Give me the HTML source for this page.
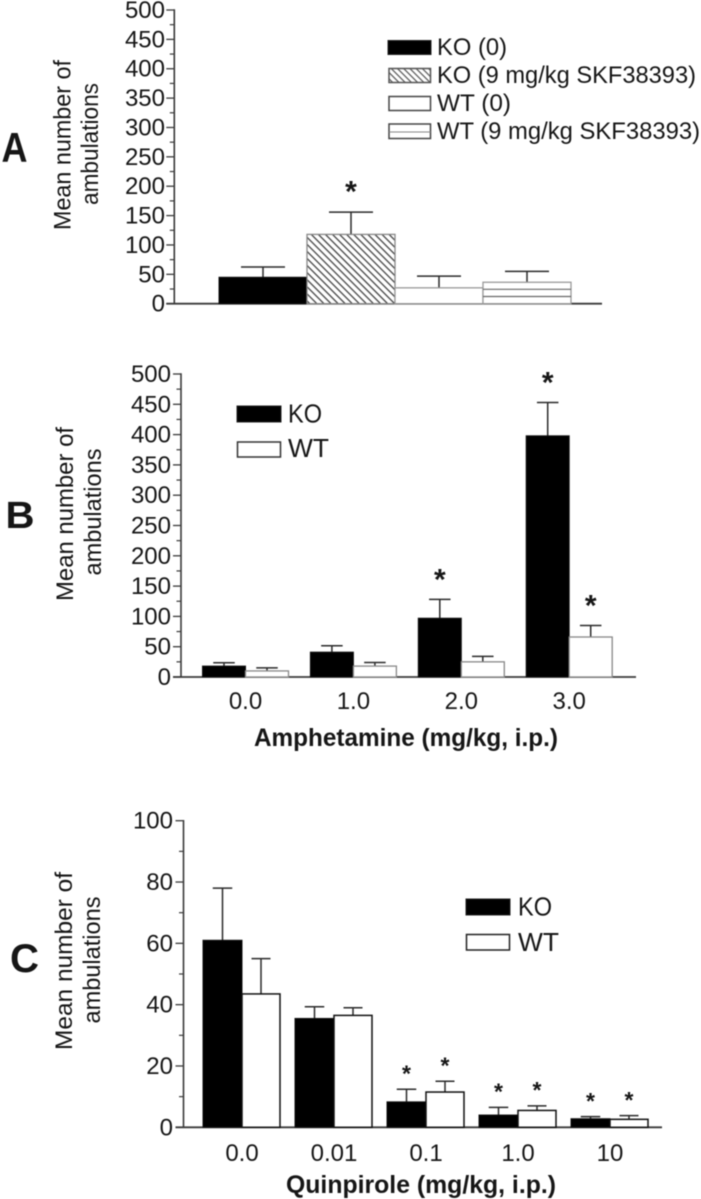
<!DOCTYPE html>
<html lang="en">
<head>
<meta charset="utf-8">
<title>Mean number of ambulations</title>
<style>
html,body{margin:0;padding:0;background:#fff;}
svg{display:block;filter:blur(0.4px);}
text{font-family:"Liberation Sans",Arial,sans-serif;fill:#161616;}
</style>
</head>
<body>
<svg id="fig" xmlns="http://www.w3.org/2000/svg" width="701" height="1199" viewBox="0 0 701 1199">
  <defs>
    <pattern id="hatchDiag" patternUnits="userSpaceOnUse" width="5" height="5" patternTransform="rotate(45)">
      <rect width="5" height="5" fill="#fff"/>
      <rect x="0" y="0" width="5" height="1.3" fill="#444"/>
    </pattern>
    <pattern id="hatchDiagLegend" patternUnits="userSpaceOnUse" width="4.4" height="4.4" patternTransform="rotate(45)">
      <rect width="4.4" height="4.4" fill="#fff"/>
      <rect x="0" y="0" width="4.4" height="1.2" fill="#555"/>
    </pattern>
  </defs>

  <!-- Panel letters -->
  <text x="1.5" y="162" font-size="42" font-weight="bold" textLength="26" lengthAdjust="spacingAndGlyphs">A</text>
  <text x="5.5" y="528" font-size="38" font-weight="bold" textLength="29" lengthAdjust="spacingAndGlyphs">B</text>
  <text x="10" y="972" font-size="40" font-weight="bold" textLength="29" lengthAdjust="spacingAndGlyphs">C</text>

  <!-- Y axis titles -->
  <g font-size="24.5" text-anchor="middle">
    <text transform="translate(70.5,145) rotate(-90)" textLength="170" lengthAdjust="spacingAndGlyphs">Mean number of</text>
    <text transform="translate(98,144) rotate(-90)" textLength="122" lengthAdjust="spacingAndGlyphs">ambulations</text>
  </g>
  <g font-size="24.5" text-anchor="middle">
    <text transform="translate(73,514) rotate(-90)" textLength="174" lengthAdjust="spacingAndGlyphs">Mean number of</text>
    <text transform="translate(101,512) rotate(-90)" textLength="127" lengthAdjust="spacingAndGlyphs">ambulations</text>
  </g>
  <g font-size="24.5" text-anchor="middle">
    <text transform="translate(72,961) rotate(-90)" textLength="178" lengthAdjust="spacingAndGlyphs">Mean number of</text>
    <text transform="translate(100,960) rotate(-90)" textLength="127" lengthAdjust="spacingAndGlyphs">ambulations</text>
  </g>

  <!-- X axis titles -->
  <text x="254" y="746" font-size="25" font-weight="bold" textLength="304" lengthAdjust="spacingAndGlyphs">Amphetamine (mg/kg, i.p.)</text>
  <text x="286" y="1193" font-size="25" font-weight="bold" textLength="270" lengthAdjust="spacingAndGlyphs">Quinpirole (mg/kg, i.p.)</text>

  <!-- Panel A legend -->
  <g font-size="24">
    <g>
      <rect x="388" y="40.5" width="43" height="14" fill="#000" stroke="#222" stroke-width="1"/>
      <text x="437" y="55" textLength="70" lengthAdjust="spacingAndGlyphs">KO (0)</text>
    </g>
    <g>
      <rect x="389" y="68.5" width="41.5" height="14" fill="url(#hatchDiagLegend)" stroke="#555" stroke-width="1.5"/>
      <text x="437" y="83" textLength="259" lengthAdjust="spacingAndGlyphs">KO (9 mg/kg SKF38393)</text>
    </g>
    <g>
      <rect x="389" y="96.5" width="41.5" height="14" fill="#fff" stroke="#444" stroke-width="1.5"/>
      <text x="437" y="111" textLength="74" lengthAdjust="spacingAndGlyphs">WT (0)</text>
    </g>
    <g>
      <rect x="389" y="124" width="41.5" height="14.5" fill="#fff" stroke="#444" stroke-width="1.5"/>
      <line x1="389" x2="430.5" y1="132" y2="132" stroke="#888" stroke-width="1"/>
      <text x="437" y="139" textLength="263" lengthAdjust="spacingAndGlyphs">WT (9 mg/kg SKF38393)</text>
    </g>
  </g>

  <!-- Panel B legend -->
  <g font-size="25.5">
    <g>
      <rect x="237" y="406" width="44" height="16" fill="#000" stroke="#222" stroke-width="1"/>
      <text x="288" y="422.5" textLength="34" lengthAdjust="spacingAndGlyphs">KO</text>
    </g>
    <g>
      <rect x="237.5" y="442" width="43" height="15" fill="#fff" stroke="#333" stroke-width="1.5"/>
      <text x="288" y="457" textLength="41" lengthAdjust="spacingAndGlyphs">WT</text>
    </g>
  </g>

  <!-- Panel C legend -->
  <g font-size="25.5">
    <g>
      <rect x="466" y="899" width="44" height="16" fill="#000" stroke="#222" stroke-width="1"/>
      <text x="518" y="915.5" textLength="34" lengthAdjust="spacingAndGlyphs">KO</text>
    </g>
    <g>
      <rect x="466.5" y="934.5" width="43" height="15.5" fill="#fff" stroke="#222" stroke-width="1.5"/>
      <text x="518" y="951" textLength="41" lengthAdjust="spacingAndGlyphs">WT</text>
    </g>
  </g>

  <g id="panelA"></g>
  <g id="panelB"></g>
  <g id="panelC"></g>
</svg>

<script>
// Panel A data
var aCategories = ["KO (0)", "KO (9 mg/kg SKF38393)", "WT (0)", "WT (9 mg/kg SKF38393)"];
var aMeans = [45, 118, 27, 36.5];
var aErrors = [62.5, 156, 47, 55];
var aSignificant = [false, true, false, false];
var aTicks = [0, 50, 100, 150, 200, 250, 300, 350, 400, 450, 500];

// Panel B data
var bCategories = ["0.0", "1.0", "2.0", "3.0"];
var bKO = [18, 41, 97, 398];
var bKOError = [23.5, 51.5, 128, 453];
var bKOSignificant = [false, false, true, true];
var bWT = [10, 18, 25, 66];
var bWTError = [15, 24, 34, 85];
var bWTSignificant = [false, false, false, true];
var bTicks = [0, 50, 100, 150, 200, 250, 300, 350, 400, 450, 500];

// Panel C data
var cCategories = ["0.0", "0.01", "0.1", "1.0", "10"];
var cKO = [61, 35.5, 8.3, 4, 2.8];
var cKOError = [78, 39.3, 12.4, 6.5, 3.5];
var cKOSignificant = [false, false, true, true, true];
var cWT = [43.5, 36.5, 11.5, 5.5, 2.6];
var cWTError = [55, 39, 15, 7, 3.8];
var cWTSignificant = [false, false, true, true, true];
var cTicks = [0, 20, 40, 60, 80, 100];

var NS = "http://www.w3.org/2000/svg";

function make(tag, attrs, parent) {
  var node = document.createElementNS(NS, tag);
  for (var k in attrs) node.setAttribute(k, attrs[k]);
  parent.appendChild(node);
  return node;
}

function linearY(y0px, ytopPx, max) {
  return function (v) { return y0px + (ytopPx - y0px) * v / max; };
}

function drawYAxis(parent, cfg, y, ticks) {
  var axis = make("line", { x1: cfg.axisX, x2: cfg.axisX, y1: y(ticks[ticks.length - 1]) - 0.7, y2: y(0), stroke: "#3a3a3a", "stroke-width": 1.6 }, parent);
  
  
  var base = make("line", { x1: cfg.axisX - 8, x2: cfg.xEnd, y1: y(0), y2: y(0), stroke: "#3a3a3a", "stroke-width": 1.8 }, parent);
  
  
  ticks.forEach(function (t, i) {
    var major = make("line", { x1: cfg.axisX - 8, x2: cfg.axisX, y1: y(t), y2: y(t), stroke: "#3a3a3a", "stroke-width": 1.3 }, parent);
    
    
    var label = make("text", { x: cfg.labelX, y: y(t) + 8, "font-size": 24, "text-anchor": "end" }, parent);
    
    
    label.textContent = t;
    if (i < ticks.length - 1) {
      var mid = (t + ticks[i + 1]) / 2;
      var minor = make("line", { x1: cfg.axisX - 4.5, x2: cfg.axisX, y1: y(mid), y2: y(mid), stroke: "#3a3a3a", "stroke-width": 1.2 }, parent);
      
      
    }
  });
}

function drawBar(parent, x, w, mean, err, sig, y, style, starCfg) {
  var capW = w * 0.5;
  var cx = x + w / 2;
  var stem = make("line", { x1: cx, x2: cx, y1: y(mean), y2: y(err), stroke: "#2a2a2a", "stroke-width": 1.5 }, parent);
  
  
  var cap = make("line", { x1: cx - capW / 2, x2: cx + capW / 2, y1: y(err), y2: y(err), stroke: "#2a2a2a", "stroke-width": 1.5 }, parent);
  
  
  var rect = make("rect", { x: x, y: y(mean), width: w, height: y(0) - y(mean), fill: style.fill, stroke: style.stroke, "stroke-width": style.sw }, parent);
  
  
  if (style.rungs) {
    for (var ly = y(0) - style.rungs; ly > y(mean) + 2; ly -= style.rungs) {
      var rung = make("line", { x1: x, x2: x + w, y1: ly, y2: ly, stroke: "#666", "stroke-width": 1.2 }, parent);
      
      
    }
  }
  if (sig) {
    var star = make("text", { x: cx, y: y(err) - starCfg.gap + starCfg.size * 0.58, "font-size": starCfg.size, "font-weight": "bold", "text-anchor": "middle" }, parent);
    
    
    star.textContent = "*";
  }
}

function drawCategoryLabels(parent, cats, centerFn, baseline) {
  cats.forEach(function (c, i) {
    var t = make("text", { x: centerFn(i), y: baseline, "font-size": 24, "text-anchor": "middle" }, parent);
    
    
    t.textContent = c;
  });
}

// Panel A
(function () {
  var g = document.getElementById("panelA");
  var y = linearY(303.7, 10, 500);
  var left = 219, w = 88;
  function x(i) { return left + i * w; }
  var styles = [
    { fill: "#000", stroke: "#111", sw: 1 },
    { fill: "url(#hatchDiag)", stroke: "#888", sw: 1.3 },
    { fill: "#fff", stroke: "#999", sw: 1.3 },
    { fill: "#fff", stroke: "#999", sw: 1.3, rungs: 7.2 }
  ];
  drawYAxis(g, { axisX: 174.3, xEnd: 602, labelX: 165 }, y, aTicks);
  aCategories.forEach(function (c, i) {
    drawBar(g, x(i), w, aMeans[i], aErrors[i], aSignificant[i], y, styles[i], { gap: 28, size: 30 });
  });
})();

// Panel B
(function () {
  var g = document.getElementById("panelB");
  var y = linearY(677, 374, 500);
  var left = 202.5, step = 107.9, w = 43;
  function gx(i) { return left + i * step; }
  drawYAxis(g, { axisX: 181, xEnd: 636, labelX: 171 }, y, bTicks);
  bCategories.forEach(function (c, i) {
    drawBar(g, gx(i), w, bKO[i], bKOError[i], bKOSignificant[i], y, { fill: "#000", stroke: "#111", sw: 1 }, { gap: 27.5, size: 30 });
    drawBar(g, gx(i) + w, w, bWT[i], bWTError[i], bWTSignificant[i], y, { fill: "#fff", stroke: "#888", sw: 1.3 }, { gap: 27.5, size: 30 });
  });
  drawCategoryLabels(g, bCategories, function (i) { return gx(i) + w; }, 709);
})();

// Panel C
(function () {
  var g = document.getElementById("panelC");
  var y = linearY(1127.3, 820.7, 100);
  var left = 203, step = 92, w = 39;
  function gx(i) { return left + i * step; }
  drawYAxis(g, { axisX: 183.5, xEnd: 662, labelX: 173 }, y, cTicks);
  cCategories.forEach(function (c, i) {
    drawBar(g, gx(i), w, cKO[i], cKOError[i], cKOSignificant[i], y, { fill: "#000", stroke: "#111", sw: 1 }, { gap: 21, size: 23 });
    drawBar(g, gx(i) + w, w - 1, cWT[i], cWTError[i], cWTSignificant[i], y, { fill: "#fff", stroke: "#111", sw: 1.5 }, { gap: 21, size: 23 });
  });
  drawCategoryLabels(g, cCategories, function (i) { return gx(i) + w; }, 1161);
})();
</script>
</body>
</html>
